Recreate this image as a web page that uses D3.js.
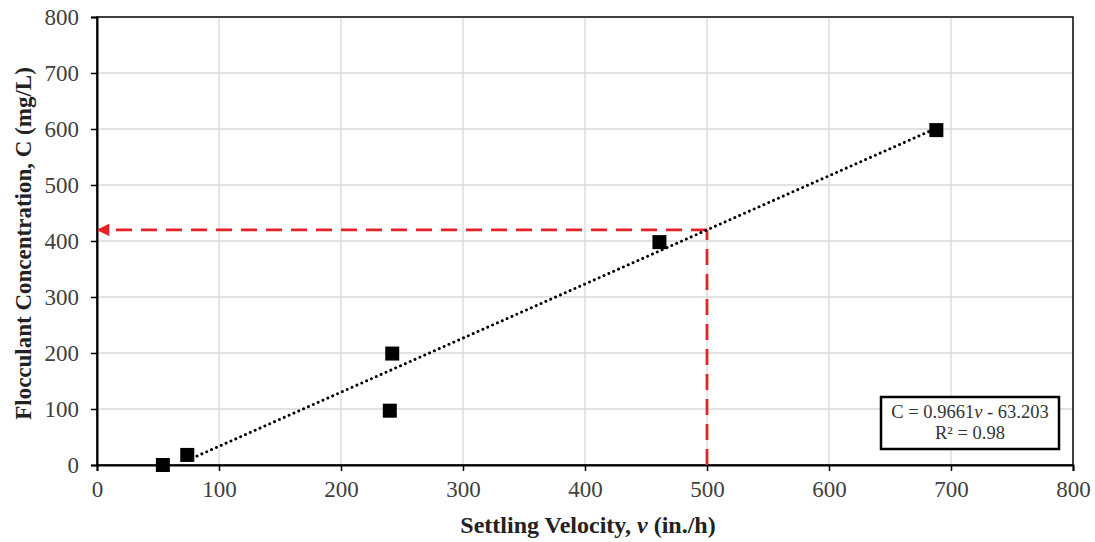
<!DOCTYPE html>
<html><head><meta charset="utf-8">
<script src="https://cdn.jsdelivr.net/npm/d3@7"></script>
<style>body{margin:0;background:#fff;}svg{display:block;}</style>
</head><body>
<svg id="chart" width="1095" height="542"></svg>
<script>
const velocity = [54, 74, 240, 242, 461, 688];
const concentration = [0, 18, 97, 199, 398, 598];
const xTicks = [0, 100, 200, 300, 400, 500, 600, 700, 800];
const yTicks = [0, 100, 200, 300, 400, 500, 600, 700, 800];
const slope = 0.9661, intercept = -63.203;
const readV = 500;
const eqLines = ["C = 0.9661", "R² = 0.98"];

const svg = d3.select("#chart");
const m = {l: 97, r: 1095 - 1073, t: 17, b: 542 - 465};
const W = 1095 - m.l - m.r, H = 542 - m.t - m.b;
const x = d3.scaleLinear().domain([0, 800]).range([m.l, m.l + W]);
const y = d3.scaleLinear().domain([0, 800]).range([m.t + H, m.t]);
const font = "'Liberation Serif', 'Times New Roman', serif";
const red = "#e62227";

// grid
svg.append("g").selectAll("line.gx").data(xTicks.slice(1, -1)).join("line")
  .attr("x1", d => x(d)).attr("x2", d => x(d)).attr("y1", y(0)).attr("y2", y(800))
  .attr("stroke", "#d9d9d9").attr("stroke-width", 1.3);
svg.append("g").selectAll("line.gy").data(yTicks.slice(1, -1)).join("line")
  .attr("y1", d => y(d)).attr("y2", d => y(d)).attr("x1", x(0)).attr("x2", x(800))
  .attr("stroke", "#d9d9d9").attr("stroke-width", 1.3);

// frame
svg.append("rect").attr("x", x(0)).attr("y", y(800)).attr("width", W).attr("height", H)
  .attr("fill", "none").attr("stroke", "#000").attr("stroke-width", 1.5);

// axes
const xAxis = svg.append("g").attr("transform", `translate(0,${y(0)})`)
  .call(d3.axisBottom(x).tickValues(xTicks).tickSize(6).tickPadding(6));
const yAxis = svg.append("g").attr("transform", `translate(${x(0)},0)`)
  .call(d3.axisLeft(y).tickValues(yTicks).tickSize(6).tickPadding(12));
[xAxis, yAxis].forEach(g => {
  g.select(".domain").attr("stroke", "#000").attr("stroke-width", 2);
  g.selectAll(".tick line").attr("stroke", "#000").attr("stroke-width", 1.5);
  g.selectAll(".tick text").attr("font-family", font).attr("font-size", 23).attr("fill", "#404040");
});
xAxis.selectAll(".tick text").attr("dy", "0.85em");

// red dashed read-off lines
const cRead = slope * readV + intercept;
svg.append("defs").append("marker").attr("id", "arr").attr("viewBox", "0 0 10 10")
  .attr("refX", 9).attr("refY", 5).attr("markerWidth", 6).attr("markerHeight", 4.5)
  .attr("orient", "auto-start-reverse")
  .append("path").attr("d", "M0,0 L10,5 L0,10 z").attr("fill", red);
svg.append("line").attr("x1", x(readV)).attr("x2", x(readV)).attr("y1", y(0)).attr("y2", y(cRead))
  .attr("stroke", red).attr("stroke-width", 2.8).attr("stroke-dasharray", "16,9");
svg.append("line").attr("x1", x(readV)).attr("x2", x(0) + 1).attr("y1", y(cRead)).attr("y2", y(cRead))
  .attr("stroke", red).attr("stroke-width", 2.8).attr("stroke-dasharray", "16,9")
  .attr("marker-end", "url(#arr)");

// trendline
const vMin = d3.min(velocity.slice(1)), vMax = d3.max(velocity);
svg.append("line").attr("x1", x(vMin)).attr("y1", y(slope * vMin + intercept))
  .attr("x2", x(vMax)).attr("y2", y(slope * vMax + intercept))
  .attr("stroke", "#000").attr("stroke-width", 2.9).attr("stroke-linecap", "round")
  .attr("stroke-dasharray", "0.1,5.2");

// points
const s = 14;
svg.append("g").selectAll("rect").data(velocity.map((v, i) => [v, concentration[i]])).join("rect")
  .attr("x", d => x(d[0]) - s / 2).attr("y", d => y(d[1]) - s / 2)
  .attr("width", s).attr("height", s).attr("fill", "#000");

// equation box
const bx = 881, by = 397, bw = 178, bh = 52;
svg.append("rect").attr("x", bx).attr("y", by).attr("width", bw).attr("height", bh)
  .attr("fill", "#fff").attr("stroke", "#000").attr("stroke-width", 2.5);
const t1 = svg.append("text").attr("x", bx + bw / 2).attr("y", by + 21).attr("text-anchor", "middle")
  .attr("font-family", font).attr("font-size", 18.5).attr("fill", "#333");
t1.append("tspan").text(eqLines[0]);
t1.append("tspan").attr("font-style", "italic").text("v");
t1.append("tspan").text(" - 63.203");
svg.append("text").attr("x", bx + bw / 2).attr("y", by + 42).attr("text-anchor", "middle")
  .attr("font-family", font).attr("font-size", 18.5).attr("fill", "#333").text(eqLines[1]);

// axis titles
const xt = svg.append("text").attr("x", x(400) + 3).attr("y", 533).attr("text-anchor", "middle")
  .attr("font-family", font).attr("font-size", 24).attr("font-weight", "bold").attr("fill", "#222");
xt.append("tspan").text("Settling Velocity, ");
xt.append("tspan").attr("font-style", "italic").text("v");
xt.append("tspan").text(" (in./h)");
svg.append("text").attr("transform", `translate(31,${(57 + 430) / 2}) rotate(-90)`).attr("text-anchor", "middle")
  .attr("font-family", font).attr("font-size", 23).attr("font-weight", "bold").attr("fill", "#222")
  .text("Flocculant Concentration, C (mg/L)");
</script>
</body></html>
